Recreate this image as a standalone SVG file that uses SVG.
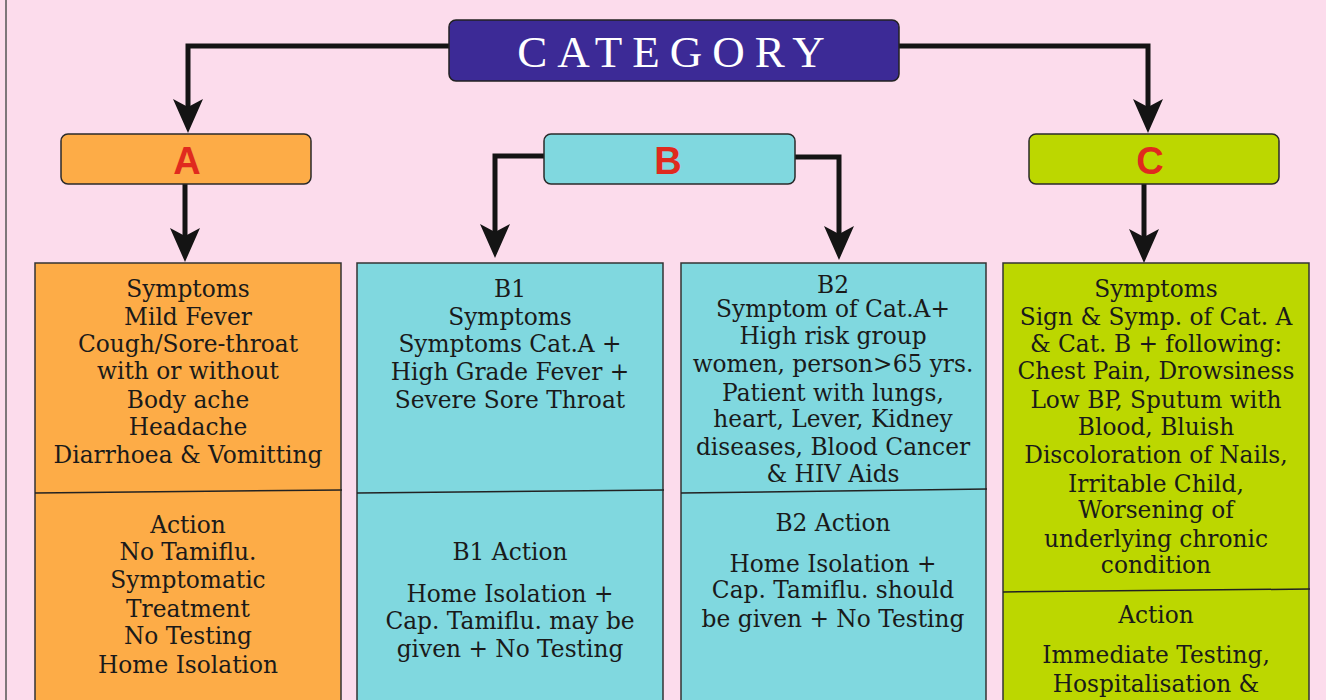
<svg xmlns="http://www.w3.org/2000/svg" width="1326" height="700" viewBox="0 0 1326 700">
  <style>
    .bg { fill: #FCDCEC; }
    .frame { stroke: #555; stroke-width: 1.5; fill: none; }
    .head { stroke: #2a2a2a; stroke-width: 1.5; }
    .cat { fill: #3C2A96; stroke: #222; stroke-width: 1.5; }
    .ca { fill: #FDAC47; }
    .cb { fill: #80D8DF; }
    .cc { fill: #BCD700; }
    .panel { stroke: #333; stroke-width: 1.5; }
    .div { stroke: #222; stroke-width: 1.5; fill: none; }
    .conn { stroke: #141414; stroke-width: 5; fill: none; marker-end: url(#arrow); }
    .title { font-family: "Liberation Serif", serif; font-size: 45px; fill: #fff; letter-spacing: 10px; text-anchor: middle; }
    .letter { font-family: "Liberation Sans", Arial, sans-serif; font-weight: bold; font-size: 38px; fill: #E02A1E; text-anchor: middle; }
    .t { font-family: "DejaVu Serif", serif; font-size: 23.3px; fill: #1a1a1a; text-anchor: middle; }
  </style>
  <defs>
    <marker id="arrow" markerUnits="userSpaceOnUse" viewBox="-15 -16 37 32" markerWidth="37" markerHeight="32" refX="0" refY="0" orient="auto">
      <path d="M20,0 L-14,-15 L-6,0 L-14,15 Z" fill="#141414"/>
    </marker>
  </defs>

  <rect class="bg" x="0" y="0" width="1326" height="700"/>
  <line class="frame" x1="6" y1="0" x2="6" y2="700"/>

  <!-- connectors -->
  <g id="connectors">
    <path class="conn" d="M449,46 H188 V113"/>
    <path class="conn" d="M899,46 H1148 V113"/>
    <path class="conn" d="M185,184 V242"/>
    <path class="conn" d="M544,156 H495 V238"/>
    <path class="conn" d="M795,157 H839 V240"/>
    <path class="conn" d="M1144,184 V243"/>
  </g>

  <g id="category">
    <rect class="cat" x="449" y="20" width="450" height="61" rx="7"/>
    <text class="title" x="676" y="67">CATEGORY</text>
  </g>

  <g id="cat-a">
    <rect class="ca head" x="61" y="134" width="250" height="50" rx="7"/>
    <text class="letter" x="187" y="174">A</text>
  </g>
  <g id="cat-b">
    <rect class="cb head" x="544" y="134" width="251" height="50" rx="7"/>
    <text class="letter" x="668" y="174">B</text>
  </g>
  <g id="cat-c">
    <rect class="cc head" x="1029" y="134" width="250" height="50" rx="7"/>
    <text class="letter" x="1150" y="174">C</text>
  </g>

  <!-- category A details -->
  <g id="panel-a">
    <rect class="ca panel" x="35" y="263" width="306" height="450"/>
    <path class="div" d="M35,493 L342,490"/>
    <text class="t" x="188" y="297">Symptoms</text>
    <text class="t" x="188" y="325">Mild Fever</text>
    <text class="t" x="188" y="352">Cough/Sore-throat</text>
    <text class="t" x="188" y="379">with or without</text>
    <text class="t" x="188" y="408">Body ache</text>
    <text class="t" x="188" y="435">Headache</text>
    <text class="t" x="188" y="463">Diarrhoea &amp; Vomitting</text>
    <text class="t" x="188" y="533">Action</text>
    <text class="t" x="188" y="560">No Tamiflu.</text>
    <text class="t" x="188" y="588">Symptomatic</text>
    <text class="t" x="188" y="617">Treatment</text>
    <text class="t" x="188" y="644">No Testing</text>
    <text class="t" x="188" y="673">Home Isolation</text>
  </g>

  <!-- category B1 details -->
  <g id="panel-b1">
    <rect class="cb panel" x="357" y="263" width="306" height="450"/>
    <path class="div" d="M357,493 L664,490"/>
    <text class="t" x="510" y="297">B1</text>
    <text class="t" x="510" y="325">Symptoms</text>
    <text class="t" x="510" y="352">Symptoms Cat.A +</text>
    <text class="t" x="510" y="380">High Grade Fever +</text>
    <text class="t" x="510" y="408">Severe Sore Throat</text>
    <text class="t" x="510" y="560">B1 Action</text>
    <text class="t" x="510" y="602">Home Isolation +</text>
    <text class="t" x="510" y="629">Cap. Tamiflu. may be</text>
    <text class="t" x="510" y="657">given + No Testing</text>
  </g>

  <!-- category B2 details -->
  <g id="panel-b2">
    <rect class="cb panel" x="681" y="263" width="305" height="450"/>
    <path class="div" d="M681,493 L987,489"/>
    <text class="t" x="833" y="293">B2</text>
    <text class="t" x="833" y="317">Symptom of Cat.A+</text>
    <text class="t" x="833" y="344">High risk group</text>
    <text class="t" x="833" y="372">women, person&gt;65 yrs.</text>
    <text class="t" x="833" y="401">Patient with lungs,</text>
    <text class="t" x="833" y="427">heart, Lever, Kidney</text>
    <text class="t" x="833" y="455">diseases, Blood Cancer</text>
    <text class="t" x="833" y="482">&amp; HIV Aids</text>
    <text class="t" x="833" y="531">B2 Action</text>
    <text class="t" x="833" y="572">Home Isolation +</text>
    <text class="t" x="833" y="598">Cap. Tamiflu. should</text>
    <text class="t" x="833" y="627">be given + No Testing</text>
  </g>

  <!-- category C details -->
  <g id="panel-c">
    <rect class="cc panel" x="1003" y="263" width="306" height="450"/>
    <path class="div" d="M1003,592 L1310,589"/>
    <text class="t" x="1156" y="297">Symptoms</text>
    <text class="t" x="1156" y="325">Sign &amp; Symp. of Cat. A</text>
    <text class="t" x="1156" y="352">&amp; Cat. B + following:</text>
    <text class="t" x="1156" y="379">Chest Pain, Drowsiness</text>
    <text class="t" x="1156" y="408">Low BP, Sputum with</text>
    <text class="t" x="1156" y="435">Blood, Bluish</text>
    <text class="t" x="1156" y="463">Discoloration of Nails,</text>
    <text class="t" x="1156" y="492">Irritable Child,</text>
    <text class="t" x="1156" y="518">Worsening of</text>
    <text class="t" x="1156" y="547">underlying chronic</text>
    <text class="t" x="1156" y="573">condition</text>
    <text class="t" x="1156" y="623">Action</text>
    <text class="t" x="1156" y="663">Immediate Testing,</text>
    <text class="t" x="1156" y="692">Hospitalisation &amp;</text>
  </g>
</svg>
